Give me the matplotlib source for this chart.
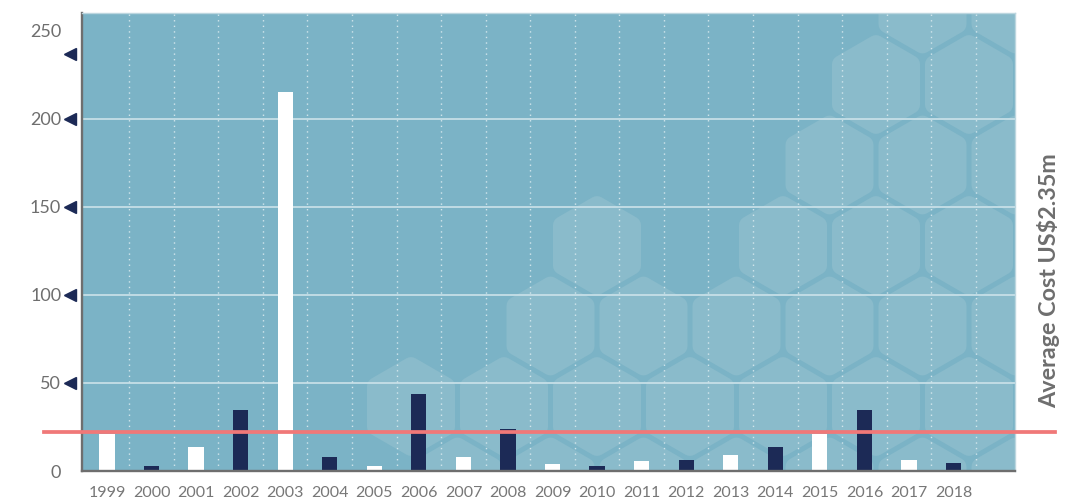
import numpy as np
import matplotlib.pyplot as plt
from matplotlib.patches import Polygon

# data
years = ['1999', '2000', '2001', '2002', '2003', '2004', '2005', '2006', '2007', '2008',
         '2009', '2010', '2011', '2012', '2013', '2014', '2015', '2016', '2017', '2018']
values = [21, 2.6, 13.5, 34.4, 215, 8.2, 3.1, 43.6, 7.7, 23.6,
          3.7, 3.1, 5.4, 6.5, 8.8, 13.4, 21, 34.4, 6.5, 4.3]
avg_cost = 22.0
avg_label = 'Average Cost US$2.35m'
ytick_vals = [0, 50, 100, 150, 200, 250]
grid_vals = [50, 100, 150, 200]
arrow_vals = [50, 100, 150, 200, 237]

# honeycomb decoration: row -> column indices present
hex_rows = {0: [0, 1, 2, 3, 4, 5, 6],
            1: [0, 1, 2, 3, 4, 5, 6],
            2: [1, 2, 3, 4, 5, 6],
            3: [2, 4, 5, 6],
            4: [4, 5, 6],
            5: [5, 6],
            6: [5, 6]}

BG = '#7bb3c6'
HEX = '#8abbcb'
NAVY = '#1c2a56'
GREY = '#6e6e6e'
RED = '#f07878'
FONT = 'Lato'

W, H = 1087, 504
L, T, R, B = 82, 13, 1015, 471   # plot area in pixels (from top)

fig = plt.figure(figsize=(W / 100, H / 100), dpi=100)
ax = fig.add_axes([L / W, (H - B) / H, (R - L) / W, (B - T) / H])
ax.set_facecolor(BG)


def px_to_axes(px, py):
    return (px - L) / (R - L), (B - py) / (B - T)


# rounded hexagons in the background
r_round = 9
apo = 44 - r_round
rad = apo / np.cos(np.radians(30))
for j, cols in hex_rows.items():
    cy = 487 - 80.5 * j
    for c in cols:
        cx = 411 + 93 * c + (46.5 if j % 2 == 0 else 0)
        ang = np.radians(90 + 60 * np.arange(6))
        pts = [px_to_axes(cx + rad * np.cos(a), cy + rad * np.sin(a)) for a in ang]
        ax.add_patch(Polygon(pts, closed=True, facecolor=HEX, edgecolor=HEX,
                             linewidth=2 * r_round * 0.72, joinstyle='round',
                             transform=ax.transAxes, zorder=0.5))

x = np.arange(len(years))

# grid
for g in grid_vals:
    ax.axhline(g, color='#c6dfe7', lw=1.3, zorder=1)
for xi in x:
    ax.axvline(xi + 0.5, color='#d2e6ec', lw=1, ls=(0, (1, 3)), zorder=1)

colors = ['white' if i % 2 == 0 else NAVY for i in range(len(years))]
ax.bar(x, values, width=0.34, color=colors, zorder=2)

ax.axhline(avg_cost, xmin=px_to_axes(44, 0)[0], xmax=px_to_axes(1055, 0)[0],
           color=RED, lw=2.7, zorder=3, clip_on=False)

ax.set_xlim(-0.56, 20.38)
ax.set_ylim(0, 260)

ax.set_xticks(x)
ax.set_xticklabels(years, fontsize=11.5, color='#777777', family=FONT)
ax.set_yticks(ytick_vals)
ax.set_yticklabels([str(v) for v in ytick_vals], fontsize=13, color=GREY, family=FONT)
ax.tick_params(axis='x', length=0, pad=11)
ax.tick_params(axis='y', length=0, pad=15)

# little arrow marks beside the y labels
ax.plot(np.full(len(arrow_vals), -0.0129), arrow_vals, marker='<', ls='none', ms=8,
        color=NAVY, transform=ax.get_yaxis_transform(), clip_on=False)

for side in ['left', 'bottom']:
    ax.spines[side].set_color(GREY)
    ax.spines[side].set_linewidth(1.7)
for side in ['top', 'right']:
    ax.spines[side].set_color('#bcd6df')
    ax.spines[side].set_linewidth(1)

fig.text(1049 / W, 1 - 281 / H, avg_label, rotation=90, ha='center', va='center',
         fontsize=16.8, fontweight='bold', color=GREY, family=FONT)

fig.savefig('out.png', dpi=100)
